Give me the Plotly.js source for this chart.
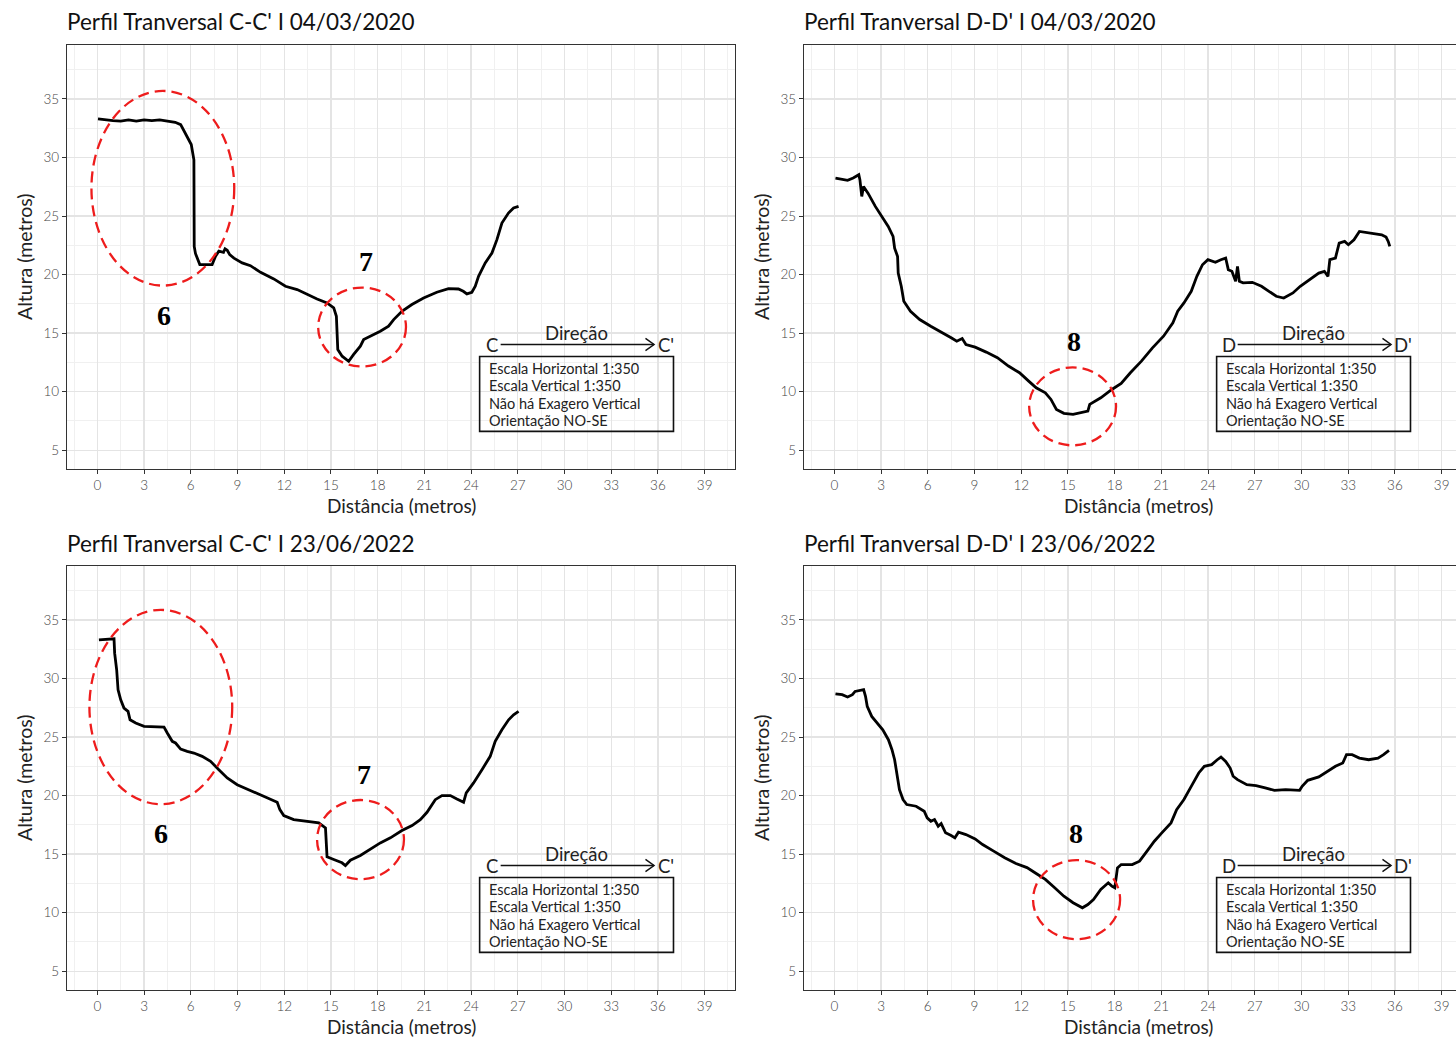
<!DOCTYPE html>
<html><head><meta charset="utf-8">
<script src="https://cdn.plot.ly/plotly-3.0.1.min.js"></script>
<style>html,body{margin:0;padding:0;overflow:hidden;background:#fff;width:1456px;height:1038px}#chart{width:1480px;height:1038px}</style>
</head><body><div id="chart"></div><script>
// ---- Data (distance in metres, height in metres) ----
const titles = ["Perfil Tranversal C-C' I 04/03/2020", "Perfil Tranversal D-D' I 04/03/2020",
                "Perfil Tranversal C-C' I 23/06/2022", "Perfil Tranversal D-D' I 23/06/2022"];
const xTitle = "Distância (metros)";
const yTitle = "Altura (metros)";
const boxLines = ["Escala Horizontal 1:350", "Escala Vertical 1:350", "Não há Exagero Vertical", "Orientação NO-SE"];
const dirLabel = "Direção";
const startLabels = ["C", "D", "C", "D"];
const endLabels = ["C'", "D'", "C'", "D'"];

const cc2020_x = [0.04,0.5,1.0,1.5,2.0,2.5,3.0,3.5,4.0,4.5,5.0,5.35,5.77,6.03,6.2,6.22,6.3,6.58,7.0,7.37,7.59,7.8,8.1,8.2,8.34,8.5,8.77,9.3,9.83,10.48,11.33,12.08,12.83,13.47,14.11,14.75,15.18,15.35,15.44,15.72,16.14,16.46,16.89,17.1,17.53,18.17,18.7,19.03,19.56,20.2,20.95,21.8,22.55,23.19,23.5,23.73,24.05,24.27,24.48,24.91,25.34,25.66,25.98,26.4,26.73,27.05];
const cc2020_y = [33.3,33.2,33.15,33.1,33.2,33.1,33.2,33.15,33.2,33.1,33.0,32.8,31.8,31.1,29.8,22.4,21.8,20.85,20.85,20.85,21.56,22.0,21.9,22.2,22.07,21.7,21.4,21.0,20.76,20.19,19.63,19.0,18.72,18.29,17.92,17.58,17.15,16.44,13.6,13.03,12.6,13.18,13.89,14.45,14.74,15.16,15.59,16.16,16.87,17.44,18.0,18.49,18.8,18.77,18.57,18.35,18.49,19.0,19.85,20.99,21.84,22.98,24.4,25.25,25.68,25.82];

const dd2020_x = [0.07,0.5,0.85,1.21,1.57,1.64,1.76,1.87,2.16,2.63,3.11,3.46,3.77,3.87,4.06,4.1,4.3,4.46,4.89,5.48,6.19,6.91,7.5,7.86,8.21,8.45,9.04,9.75,10.47,11.18,11.89,12.48,12.96,13.55,13.91,14.26,14.74,15.33,15.92,16.28,16.4,17.11,17.82,18.42,19.01,19.72,20.43,21.14,21.74,22.05,22.45,22.92,23.28,23.64,23.99,24.47,24.82,25.13,25.3,25.53,25.77,25.89,26.01,26.25,26.84,27.43,27.91,28.38,28.86,29.45,29.92,30.4,31.11,31.47,31.7,31.82,32.18,32.42,32.77,33.01,33.37,33.72,34.08,34.55,35.15,35.43,35.57,35.67];
const dd2020_y = [28.24,28.15,28.04,28.24,28.52,28.1,26.67,27.52,26.95,25.82,24.82,24.11,23.26,22.26,21.55,20.13,18.99,17.72,16.87,16.16,15.59,15.08,14.6,14.31,14.54,14.03,13.8,13.38,12.9,12.19,11.62,10.9,10.33,9.91,9.34,8.49,8.15,8.06,8.21,8.35,8.92,9.48,10.19,10.7,11.62,12.61,13.74,14.74,15.88,16.87,17.58,18.57,19.85,20.84,21.27,21.05,21.27,21.41,20.42,20.28,19.43,20.7,19.43,19.29,19.34,19.0,18.57,18.15,18.0,18.43,19.0,19.43,20.13,20.28,19.85,21.27,21.41,22.69,22.83,22.55,22.97,23.68,23.6,23.49,23.4,23.2,22.83,22.4];

const cc2022_x = [0.1,1.07,1.11,1.24,1.33,1.5,1.71,1.97,2.1,2.46,3.0,3.63,4.28,4.49,4.81,5.02,5.35,5.77,6.2,6.73,7.27,7.8,8.34,8.98,9.62,10.26,10.9,11.55,11.72,11.97,12.61,13.47,14.22,14.65,14.71,14.75,15.18,15.71,15.93,16.25,16.89,17.53,18.17,18.82,19.56,20.21,20.74,21.17,21.7,22.13,22.67,23.09,23.52,23.69,24.16,24.7,25.23,25.55,25.98,26.41,26.73,27.05];
const cc2022_y = [33.3,33.38,32.16,30.74,29.03,28.18,27.47,27.19,26.47,26.19,25.91,25.85,25.85,25.34,24.63,24.49,23.97,23.78,23.63,23.35,22.92,22.21,21.5,20.93,20.56,20.22,19.8,19.43,18.8,18.29,17.95,17.81,17.67,17.24,16.1,14.77,14.54,14.26,14.03,14.48,14.88,15.45,15.96,16.39,17.01,17.44,17.95,18.57,19.65,20.0,20.0,19.71,19.43,20.22,21.08,22.21,23.35,24.63,25.62,26.47,26.9,27.19];

const dd2022_x = [0.07,0.5,0.85,1.16,1.33,1.57,1.88,2.0,2.11,2.4,2.75,3.11,3.47,3.7,3.87,4.01,4.18,4.41,4.65,5.25,5.77,5.96,6.2,6.43,6.67,6.86,7.14,7.5,7.74,7.97,8.45,9.04,9.52,10.23,10.94,11.66,12.37,12.96,13.55,14.15,14.74,15.33,15.93,16.28,16.64,17.11,17.59,17.82,18.01,18.18,18.42,19.13,19.6,20.08,20.55,21.03,21.62,21.98,22.45,22.92,23.4,23.76,24.23,24.59,24.83,25.13,25.42,25.61,25.89,26.49,27.08,27.67,28.26,28.98,29.57,29.88,30.04,30.4,31.11,31.7,32.18,32.65,32.89,33.25,33.72,34.31,34.91,35.27,35.62];
const dd2022_y = [28.69,28.61,28.41,28.61,28.89,28.98,29.04,28.47,27.62,26.76,26.19,25.62,24.77,23.92,23.06,21.93,20.51,19.66,19.23,19.09,18.66,18.1,17.81,17.95,17.38,17.61,16.82,16.59,16.39,16.87,16.67,16.3,15.82,15.26,14.69,14.2,13.85,13.35,12.84,12.13,11.41,10.85,10.42,10.7,11.13,11.98,12.55,12.27,12.13,13.83,14.11,14.11,14.4,15.26,16.1,16.82,17.67,18.8,19.66,20.79,21.93,22.5,22.64,23.06,23.29,22.92,22.35,21.65,21.36,20.93,20.85,20.65,20.45,20.51,20.51,20.45,20.79,21.3,21.59,22.07,22.5,22.78,23.49,23.49,23.2,23.06,23.2,23.49,23.86];

const markLabels = [["6","7"],["8"],["6","7"],["8"]];

// ---- Layout ----
const W = 1480, H = 1038;
const FONT = 'Lato, "Open Sans", sans-serif';
const px = p => p / W, py = p => 1 - p / H;

const panels = [
  {xs:'', x0:67, y0:45, xd:cc2020_x, yd:cc2020_y,
   ell:[[-0.38,19.06,8.79,35.68],[14.18,12.15,19.82,18.89]], nums:[[4.3,16.5],[17.25,21.1]]},
  {xs:'2', x0:804, y0:45, xd:dd2020_x, yd:dd2020_y,
   ell:[[12.51,5.42,18.09,12.07]], nums:[[15.39,14.28]]},
  {xs:'3', x0:67, y0:566, xd:cc2022_x, yd:cc2022_y,
   ell:[[-0.51,19.27,8.66,35.85],[14.11,12.86,19.69,19.62]], nums:[[4.1,16.8],[17.1,21.8]]},
  {xs:'4', x0:804, y0:566, xd:dd2022_x, yd:dd2022_y,
   ell:[[12.76,7.74,18.35,14.49]], nums:[[15.52,16.8]]}
];
const PW = 668, PH = 424;

const layout = {width:W, height:H, margin:{l:0,r:0,t:0,b:0}, showlegend:false,
  paper_bgcolor:'#fff', plot_bgcolor:'#fff', font:{family:FONT, color:'#000'},
  shapes:[], annotations:[]};
const traces = [];

const axCommon = {ticks:'outside', ticklen:4, tickcolor:'#333', tickwidth:1,
  showline:true, linecolor:'#333', linewidth:1.2, mirror:true, zeroline:false,
  showgrid:true, gridcolor:'#e4e4e4', gridwidth:1.4,
  tickfont:{family:FONT, size:13.5, color:'#444', weight:300}, fixedrange:true, tickmode:'linear'};

panels.forEach((p, i) => {
  const xk = 'xaxis' + p.xs, yk = 'yaxis' + p.xs;
  const xr = 'x' + p.xs, yr = 'y' + p.xs;
  layout[xk] = Object.assign({}, axCommon, {domain:[px(p.x0), px(p.x0 + PW)], anchor:yr,
    range:[-1.95, 40.95], tick0:0, dtick:3,
    minor:{tick0:0, dtick:1.5, showgrid:true, gridcolor:'#f0f0f0', gridwidth:1}});
  layout[yk] = Object.assign({}, axCommon, {domain:[py(p.y0 + PH), py(p.y0)], anchor:xr,
    range:[3.4, 39.6], tick0:5, dtick:5,
    minor:{tick0:0, dtick:2.5, showgrid:true, gridcolor:'#f0f0f0', gridwidth:1}});

  traces.push({type:'scatter', mode:'lines', x:p.xd, y:p.yd, xaxis:xr, yaxis:yr,
    line:{color:'#000', width:2.8}, hoverinfo:'skip'});

  // panel title
  layout.annotations.push({xref:'paper', yref:'paper', x:px(p.x0 - 2), y:py(p.y0 - 23),
    xanchor:'left', yanchor:'middle', showarrow:false, text:titles[i],
    font:{family:FONT, size:22.5, color:'#111'}});
  // axis titles
  layout.annotations.push({xref:'paper', yref:'paper', x:px(p.x0 + 334), y:py(p.y0 + PH + 36),
    xanchor:'center', yanchor:'middle', showarrow:false, text:xTitle,
    font:{family:FONT, size:19, color:'#222'}});
  layout.annotations.push({xref:'paper', yref:'paper', x:px(p.x0 - 43), y:py(p.y0 + 212),
    xanchor:'center', yanchor:'middle', showarrow:false, text:yTitle, textangle:-90,
    font:{family:FONT, size:19.5, color:'#222'}});

  // red dashed ellipses
  p.ell.forEach(e => layout.shapes.push({type:'circle', xref:xr, yref:yr,
    x0:e[0], y0:e[1], x1:e[2], y1:e[3], line:{color:'#ee1c1c', width:2.3, dash:'11px,6px'}}));
  // bold numbers
  p.nums.forEach((n, k) => layout.annotations.push({xref:xr, yref:yr, x:n[0], y:n[1],
    showarrow:false, text:'<b>' + markLabels[i][k] + '</b>',
    font:{family:'"Liberation Serif", "Times New Roman", serif', size:28, color:'#000'}}));

  // direction arrow
  layout.shapes.push({type:'line', xref:xr, yref:yr, x0:25.9, y0:14.03, x1:35.75, y1:14.03,
    line:{color:'#111', width:1.5}});
  layout.shapes.push({type:'path', xref:xr, yref:yr,
    path:'M 35.2 14.55 L 35.75 14.03 L 35.2 13.51', line:{color:'#111', width:1.5}});
  layout.annotations.push({xref:xr, yref:yr, x:25.34, y:13.95, showarrow:false,
    text:startLabels[i], font:{family:FONT, size:18.5, color:'#222'}});
  layout.annotations.push({xref:xr, yref:yr, x:36.5, y:13.95, showarrow:false,
    text:endLabels[i], font:{family:FONT, size:18.5, color:'#222'}});
  layout.annotations.push({xref:xr, yref:yr, x:30.75, y:15.05, showarrow:false,
    text:dirLabel, font:{family:FONT, size:18.5, color:'#222'}});
  // info box
  layout.shapes.push({type:'rect', xref:xr, yref:yr, x0:24.55, y0:6.61, x1:37.0, y1:13.0,
    line:{color:'#111', width:1.6}, fillcolor:'rgba(255,255,255,0)'});
  const ly = [11.98, 10.53, 9.0, 7.55];
  boxLines.forEach((t, k) => layout.annotations.push({xref:xr, yref:yr, x:25.0, y:ly[k],
    xanchor:'left', yanchor:'middle', showarrow:false, text:t,
    font:{family:FONT, size:14.5, color:'#222'}}));
});

Plotly.newPlot('chart', traces, layout, {displayModeBar:false, staticPlot:true});
</script></body></html>
